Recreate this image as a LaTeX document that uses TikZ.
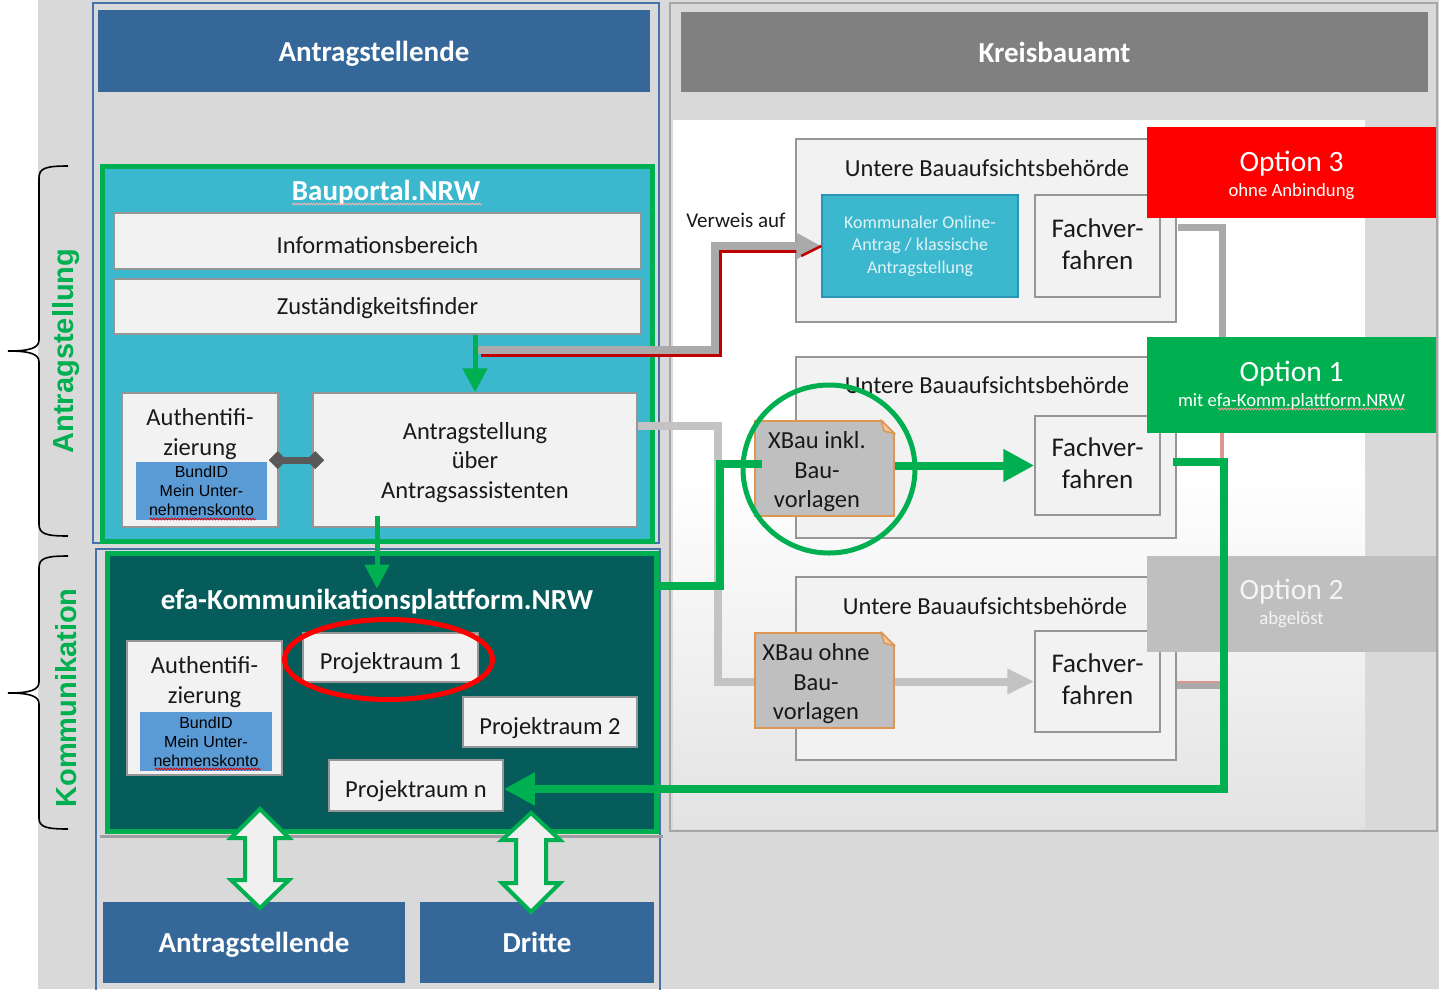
\documentclass[tikz,border=0pt]{standalone}
\usepackage{fontspec}
\setmainfont{Carlito}
\newfontfamily\arialf{Liberation Sans}
\usetikzlibrary{arrows.meta,calc,decorations.pathreplacing,decorations.pathmorphing}
\definecolor{bg}{RGB}{217,217,217}
\definecolor{hblue}{RGB}{53,103,153}
\definecolor{colblue}{RGB}{70,114,170}
\definecolor{cyanbp}{RGB}{60,184,206}
\definecolor{kombord}{RGB}{40,150,180}
\definecolor{efateal}{RGB}{5,92,90}
\definecolor{ggreen}{RGB}{0,176,80}
\definecolor{boxfill}{RGB}{242,242,242}
\definecolor{boxline}{RGB}{150,150,150}
\definecolor{bundblue}{RGB}{91,155,213}
\definecolor{kgray}{RGB}{128,128,128}
\definecolor{xbfill}{RGB}{191,191,191}
\definecolor{xborange}{RGB}{222,150,80}
\definecolor{optred}{RGB}{255,0,0}
\definecolor{optgray}{RGB}{191,191,191}
\definecolor{conngray}{RGB}{170,170,170}
\definecolor{connlight}{RGB}{195,195,195}
\definecolor{darkred}{RGB}{192,0,0}
\definecolor{pinkline}{RGB}{217,150,148}
\definecolor{dgray}{RGB}{89,89,89}
\definecolor{txt}{RGB}{25,25,25}
\definecolor{komtxt}{RGB}{225,242,247}
\definecolor{arrowfill}{RGB}{240,240,240}
\tikzset{
  panelbox/.style={draw=boxline, fill=boxfill, line width=1.5pt, inner sep=0pt},
  hdr/.style={fill=hblue, text=white, font=\fontsize{29}{34}\selectfont\bfseries, inner sep=0pt, text depth=0pt},
  lbl/.style={text=txt, font=\fontsize{24.5}{29.5}\selectfont, align=center, inner sep=0pt},
  prlbl/.style={text=txt, font=\fontsize{24.5}{29.5}\selectfont, inner sep=0pt, text height=24pt, text depth=0pt},
  fvlbl/.style={text=txt, font=\fontsize{27}{32}\selectfont, align=center, inner sep=0pt},
  bundbox/.style={fill=bundblue, inner sep=0pt, text=black, font=\arialf\fontsize{16}{19}\selectfont, align=center},
  notebox/.style={fill=xbfill, draw=xborange, line width=2pt, inner sep=0pt},
  optbig/.style={text=white, font=\fontsize{29.5}{32}\selectfont, inner sep=0pt},
  optsmall/.style={text=white, font=\fontsize{18.7}{20}\selectfont, inner sep=0pt},
  vlabel/.style={text=ggreen, font=\arialf\bfseries\fontsize{29}{34}\selectfont, rotate=90, inner sep=0pt},
  gline/.style={draw=ggreen, line width=8pt},
  garrow/.style={draw=ggreen, line width=5pt, -{Triangle[length=24pt,width=24pt]}},
  gbig/.style={draw=ggreen, line width=8pt, -{Triangle[length=31pt,width=31pt]}},
  grayconn/.style={draw=conngray, line width=8pt},
  hollowarrow/.style={draw=ggreen, line width=4pt, fill=arrowfill, line join=miter},
  bracestroke/.style={draw=black, line width=1.6pt},
  spellmark/.style={draw=red!85!black, line width=0.8pt, decorate, decoration={snake, amplitude=0.9pt, segment length=3pt}},
}
\begin{document}
\begin{tikzpicture}[x=1pt,y=-1pt]
\useasboundingbox (0,0) rectangle (1439,989);
\fill[white] (0,0) rectangle (1439,989);
\fill[bg] (38,0) rectangle (1439,989);

% ---------- right panel ----------
\draw[fill=bg, draw=gray!70, line width=2.5pt] (670,3) rectangle (1437,831);
\fill[white] (673,120) rectangle (1365,828);
\shade[top color=white, bottom color=gray!22] (673,470) rectangle (1365,828);
\node[hdr, fill=kgray, minimum width=747pt, minimum height=80pt] (hdrR) at (1054.5,52) {Kreisbauamt};

% ---------- left column ----------
\draw[colblue, line width=2.5pt] (93,3) rectangle (659,543);
\draw[colblue, line width=2.5pt] (96,549) rectangle (660,995);
\node[hdr, minimum width=552pt, minimum height=82pt] (hdrL) at (374,51) {Antragstellende};

% Bauportal
\node[draw=ggreen, fill=cyanbp, line width=5pt, minimum width=550pt, minimum height=375pt, inner sep=0pt] (bp) at (377,353.5) {};
\node[text=white, font=\fontsize{29}{34}\selectfont\bfseries, inner sep=0pt, text depth=0pt] (bpt) at (386,190) {Bauportal.NRW};
\draw[spellmark, draw=white!70!red] (292,204) -- (482,204);
\node[panelbox, lbl, minimum width=527pt, minimum height=56pt, text height=24.5pt, text depth=0pt] (info) at (377.5,241) {Informationsbereich};
\node[panelbox, lbl, minimum width=527pt, minimum height=55pt, text height=21.5pt, text depth=5pt] (zust) at (377.5,306.5) {Zuständigkeitsfinder};
\node[panelbox, minimum width=156pt, minimum height=134pt] (auth1) at (200,460) {};
\node[lbl] (auth1t) at (200,434) {Authentifi-\\zierung};
\node[bundbox, minimum width=131pt, minimum height=58pt] (bund1) at (201.5,491) {BundID\\Mein Unter-\\nehmenskonto};
\draw[spellmark] (150,519) -- (256,519);
\node[panelbox, minimum width=324pt, minimum height=134pt] (antr) at (475,460) {};
\node[lbl] (antrt) at (475,462.5) {Antragstellung\\über\\Antragsassistenten};

% efa
\draw[gray!75, line width=3pt] (100,836) -- (663,836);
\node[draw=ggreen, fill=efateal, line width=5pt, minimum width=549pt, minimum height=278pt, inner sep=0pt] (efa) at (381.5,692) {};
\node[text=white, font=\fontsize{29}{34}\selectfont\bfseries, inner sep=0pt, text depth=0pt] (efat) at (377,599) {efa-Kommunikationsplattform.NRW};
\node[panelbox, minimum width=155pt, minimum height=134pt] (auth2) at (204.5,708) {};
\node[lbl] (auth2t) at (204.5,682) {Authentifi-\\zierung};
\node[bundbox, minimum width=132pt, minimum height=59pt] (bund2) at (206,741.5) {BundID\\Mein Unter-\\nehmenskonto};
\draw[spellmark] (155,769) -- (261,769);
\node[panelbox, prlbl, minimum width=175pt, minimum height=49pt] (pr1) at (390.5,657.5) {Projektraum 1};
\node[panelbox, prlbl, minimum width=174pt, minimum height=50pt] (pr2) at (550,722) {Projektraum 2};
\node[panelbox, prlbl, minimum width=174pt, minimum height=51pt] (prn) at (416,785.5) {Projektraum n};
\draw[optred, line width=5pt] (388.5,659.5) ellipse [x radius=104pt, y radius=40pt];

% bottom boxes
\node[hdr, minimum width=302pt, minimum height=81pt] (botA) at (254,942.5) {Antragstellende};
\node[hdr, minimum width=234pt, minimum height=81pt] (dritte) at (537,942.5) {Dritte};

% ---------- right blocks ----------
\node[panelbox, minimum width=380pt, minimum height=183pt] (uba1) at (986,230.5) {};
\node[lbl] (uba1t) at (987,168) {Untere Bauaufsichtsbehörde};
\node[fill=cyanbp, draw=kombord, line width=1.5pt, minimum width=196pt, minimum height=102pt, inner sep=0pt, text=komtxt, font=\fontsize{18}{22.5}\selectfont, align=center] (kom) at (920,246) {Kommunaler Online-\\Antrag / klassische\\Antragstellung};
\node[panelbox, minimum width=125pt, minimum height=102pt] (fv1) at (1097.5,246) {};
\node[fvlbl] (fv1t) at (1097.5,244) {Fachver-\\fahren};

\node[panelbox, minimum width=380pt, minimum height=181pt] (uba2) at (986,447.5) {};
\node[lbl] (uba2t) at (987,385) {Untere Bauaufsichtsbehörde};
\node[panelbox, minimum width=125pt, minimum height=99pt] (fv2) at (1097.5,465.5) {};
\node[fvlbl] (fv2t) at (1097.5,463) {Fachver-\\fahren};

\node[panelbox, minimum width=380pt, minimum height=183pt] (uba3) at (986,668.5) {};
\node[lbl] (uba3t) at (985,606) {Untere Bauaufsichtsbehörde};
\node[panelbox, minimum width=125pt, minimum height=101pt] (fv3) at (1097.5,681.5) {};
\node[fvlbl] (fv3t) at (1097.5,679) {Fachver-\\fahren};

% gray connectors
\coordinate (vst) at (476,350);
\draw[darkred, line width=3pt] ($(vst)+(5,5)$) -- ++(239,0) |- ($(kom.west)+(-22,5)$);
\draw[grayconn, -{Triangle[length=25pt,width=25pt]}] (vst) -- ++(239,0) |- (kom.west);
\draw[darkred, line width=2.5pt] ($(kom.west)+(-20,10)$) -- (kom.west);
\node[text=txt, font=\fontsize{21}{25}\selectfont, inner sep=0pt] (verw) at (736,220) {Verweis auf};

\draw[draw=connlight, line width=8pt, -{Triangle[length=27pt,width=24pt]}] ($(antr.north east)!0.25!(antr.south east)$) -- ++(80,0) |- (fv3.west);
\draw[grayconn, line width=7pt] ($(fv1.north east)+(17,33)$) -- ++(45,0) -- ++(0,190);
\draw[pinkline, line width=4pt] (1222,420) -- (1222,790);
\draw[conngray, line width=6pt] ($(fv3.east)+(16,4)$) -- ++(45,0);
\draw[pinkline, line width=2pt] ($(fv3.east)+(16,0)$) -- ++(45,0);

% XBau notes
\node[notebox, minimum width=139pt, minimum height=95pt] (xb1) at (824.5,468.5) {};
\fill[boxfill] ($(xb1.north east)+(1.5,-1.5)$) -- ++(-16,0) -- ++(16,16) -- cycle;
\filldraw[fill=xborange!55, draw=xborange, line width=1.5pt, line join=round] ($(xb1.north east)+(-14,0)$) -- ($(xb1.north east)+(0,14)$) -- ($(xb1.north east)+(-11,11)$) -- cycle;
\node[lbl] (xb1t) at (817,472) {XBau inkl.\\Bau-\\vorlagen};
\node[notebox, minimum width=139pt, minimum height=95pt] (xb2) at (824.5,680.5) {};
\fill[boxfill] ($(xb2.north east)+(1.5,-1.5)$) -- ++(-16,0) -- ++(16,16) -- cycle;
\filldraw[fill=xborange!55, draw=xborange, line width=1.5pt, line join=round] ($(xb2.north east)+(-14,0)$) -- ($(xb2.north east)+(0,14)$) -- ($(xb2.north east)+(-11,11)$) -- cycle;
\node[lbl] (xb2t) at (816,684) {XBau ohne\\Bau-\\vorlagen};

% options
\node[fill=optred, minimum width=289pt, minimum height=91pt, inner sep=0pt] (opt3) at (1291.5,172.5) {};
\node[optbig] (opt3a) at (1291.5,164) {Option 3};
\node[optsmall] (opt3b) at (1291.5,192) {ohne Anbindung};
\node[fill=ggreen, minimum width=289pt, minimum height=96pt, inner sep=0pt] (opt1) at (1291.5,385) {};
\node[optbig] (opt1a) at (1291.5,374) {Option 1};
\node[optsmall] (opt1b) at (1291.5,402) {mit efa-Komm.plattform.NRW};
\draw[spellmark, draw=white!60!red] (1218,409) -- (1405,409);
\node[fill=optgray, minimum width=289pt, minimum height=96pt, inner sep=0pt] (opt2) at (1291.5,604) {};
\node[optbig, text=gray!8] (opt2a) at (1291.5,592) {Option 2};
\node[optsmall, text=gray!8] (opt2b) at (1291.5,620) {abgelöst};

% ---------- green connectors ----------
\draw[garrow] (zust.south -| antr.north) -- (antr.north);
\draw[garrow, shorten <=-12pt] (antr.south -| efat) -- (efat.north);
\draw[dgray, line width=7pt, {Diamond[length=18pt,width=18pt]}-{Diamond[length=18pt,width=18pt]}, shorten <=-10pt, shorten >=-12pt] (auth1.east) -- (antr.west);
\draw[gline] ($(efa.north east)+(-4,35)$) -- ++(65,0) |- ($(xb1.west)+(8,-5)$);
\draw[gbig] (xb1.east |- fv2.west) -- (fv2.west);
\draw[gbig] ($(fv2.east)+(12,-4)$) -- ++(51,0) |- ($(prn.east)+(0,3.5)$);
\draw[ggreen, line width=5pt] (829,469) ellipse [x radius=86pt, y radius=84pt];

% hollow double arrows
\draw[hollowarrow] (260,809) -- (289,838) -- (275,838) -- (275,880) -- (289,880) -- (260,908) -- (231,880) -- (245,880) -- (245,838) -- (231,838) -- cycle;
\draw[hollowarrow] (531,813) -- (560,840) -- (546,840) -- (546,883) -- (560,883) -- (531,912) -- (502,883) -- (516,883) -- (516,840) -- (502,840) -- cycle;

% ---------- braces ----------
\draw[bracestroke] (68,166) .. controls (46,166) and (39,168) .. (39,178) -- (39,340) .. controls (39,348) and (30,351) .. (8,351) .. controls (30,351) and (39,354) .. (39,362) -- (39,524) .. controls (39,534) and (46,536) .. (68,536);
\draw[bracestroke] (68,556) .. controls (46,556) and (39,558) .. (39,568) -- (39,682) .. controls (39,690) and (30,693) .. (8,693) .. controls (30,693) and (39,696) .. (39,704) -- (39,818) .. controls (39,827) and (46,829) .. (68,829);
\node[vlabel] (lblA) at (66,351) {Antragstellung};
\node[vlabel] (lblK) at (66,698) {Kommunikation};
\end{tikzpicture}
\end{document}
